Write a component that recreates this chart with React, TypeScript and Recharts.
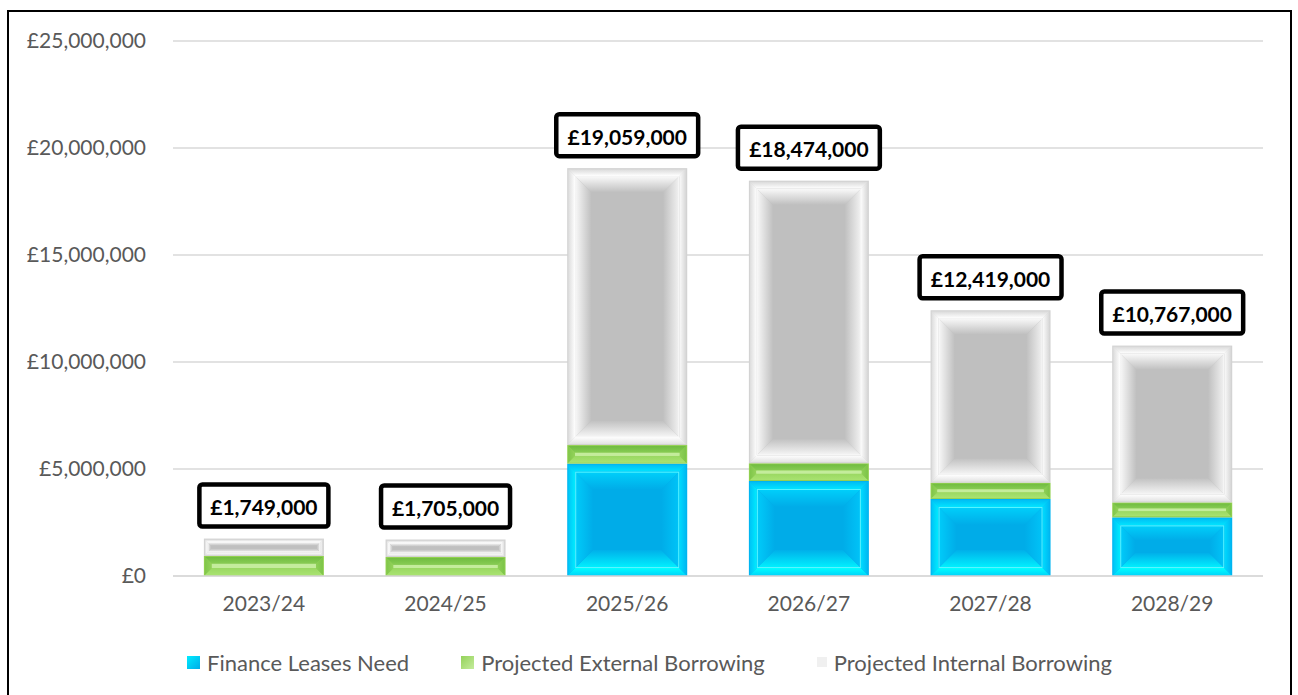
import React from "react";
import {
  Bar,
  BarChart,
  CartesianGrid,
  LabelList,
  XAxis,
  YAxis,
} from "recharts";

const categories = ["2023/24", "2024/25", "2025/26", "2026/27", "2027/28", "2028/29"];
const financeLeases = [0, 0, 5250000, 4440000, 3600000, 2740000];
const externalBorrowing = [940000, 890000, 870000, 830000, 760000, 700000];
const internalBorrowing = [809000, 815000, 12939000, 13204000, 8059000, 7327000];
const totals = [1749000, 1705000, 19059000, 18474000, 12419000, 10767000];
const yTicks = [0, 5000000, 10000000, 15000000, 20000000, 25000000];

const seriesNames = {
  fin: "Finance Leases Need",
  ext: "Projected External Borrowing",
  int: "Projected Internal Borrowing",
};

const data = categories.map((c, i) => ({
  year: c,
  fin: financeLeases[i],
  ext: externalBorrowing[i],
  int: internalBorrowing[i],
  total: totals[i],
}));

const FONT = "Lato, 'Open Sans', sans-serif";
const GREY_TEXT = "#595959";

type Pair = [string, string];
type Sides = { top: Pair; bottom: Pair; left: Pair; right: Pair };
type Palette = {
  edge: string;
  b1: number;
  r1: number;
  b2: number;
  o: Sides;
  i: Sides;
  face: string;
  line: string;
};

// bevel colours: o = outer frame (edge -> inside), i = inner "pillow" around the face
const PAL: Record<string, Palette> = {
  fin: {
    edge: "#00B4F0",
    b1: 8,
    r1: 0.2,
    b2: 18,
    o: {
      top: ["#00BEF4", "#00E4FF"],
      bottom: ["#00D8FA", "#00FFFF"],
      left: ["#00C4F6", "#00ECFF"],
      right: ["#00B8F2", "#00DCFF"],
    },
    i: {
      top: ["#00D0FB", "#00ACE8"],
      bottom: ["#00F2FF", "#00B0EA"],
      left: ["#00CCFA", "#00ACE8"],
      right: ["#00C4F8", "#00ACE8"],
    },
    face: "#00ACE8",
    line: "#5AF4FF",
  },
  ext: {
    edge: "#92D050",
    b1: 8,
    r1: 0.42,
    b2: 0,
    o: {
      top: ["#70BC40", "#88CC54"],
      bottom: ["#A8E270", "#9AD862"],
      left: ["#80C64A", "#94D25A"],
      right: ["#7CC448", "#90D058"],
    },
    i: {
      top: ["#C8EFA0", "#C8EFA0"],
      bottom: ["#C8EFA0", "#C8EFA0"],
      left: ["#C8EFA0", "#C8EFA0"],
      right: ["#C8EFA0", "#C8EFA0"],
    },
    face: "#C4EC9C",
    line: "#C4EC9C",
  },
  int: {
    edge: "#D2D2D2",
    b1: 8,
    r1: 0.2,
    b2: 16,
    o: {
      top: ["#DADADA", "#FFFFFF"],
      bottom: ["#E2E2E2", "#FFFFFF"],
      left: ["#DCDCDC", "#FFFFFF"],
      right: ["#D6D6D6", "#FCFCFC"],
    },
    i: {
      top: ["#FAFAFA", "#C0C0C0"],
      bottom: ["#F6F6F6", "#C2C2C2"],
      left: ["#F8F8F8", "#C0C0C0"],
      right: ["#F2F2F2", "#C0C0C0"],
    },
    face: "#BFBFBF",
    line: "#F6F6F6",
  },
};

const DIRS: Record<string, [number, number, number, number]> = {
  top: [0, 0, 0, 1],
  bottom: [0, 1, 0, 0],
  left: [0, 0, 1, 0],
  right: [1, 0, 0, 0],
};

function Gradients() {
  const out: React.ReactNode[] = [];
  Object.entries(PAL).forEach(([key, p]) => {
    (["o", "i"] as const).forEach((lvl) => {
      Object.entries(DIRS).forEach(([side, d]) => {
        const [c1, c2] = p[lvl][side as keyof Sides];
        out.push(
          <linearGradient
            key={`${key}-${lvl}-${side}`}
            id={`g-${key}-${lvl}-${side}`}
            x1={d[0]}
            y1={d[1]}
            x2={d[2]}
            y2={d[3]}
          >
            <stop offset="0%" stopColor={c1} />
            <stop offset="100%" stopColor={c2} />
          </linearGradient>
        );
      });
    });
  });
  return <defs>{out}</defs>;
}

function frame(x: number, y: number, w: number, h: number, b: number, prefix: string) {
  if (b <= 0) return null;
  const x2 = x + w;
  const y2 = y + h;
  return (
    <g>
      <polygon points={`${x},${y} ${x2},${y} ${x2 - b},${y + b} ${x + b},${y + b}`} fill={`url(#${prefix}-top)`} />
      <polygon points={`${x},${y2} ${x2},${y2} ${x2 - b},${y2 - b} ${x + b},${y2 - b}`} fill={`url(#${prefix}-bottom)`} />
      <polygon points={`${x},${y} ${x + b},${y + b} ${x + b},${y2 - b} ${x},${y2}`} fill={`url(#${prefix}-left)`} />
      <polygon points={`${x2},${y} ${x2 - b},${y + b} ${x2 - b},${y2 - b} ${x2},${y2}`} fill={`url(#${prefix}-right)`} />
    </g>
  );
}

function BevelBar(props: any) {
  const { x, y, width, height, series } = props;
  const h = Math.abs(height);
  const w = width;
  if (!h || h < 0.5) return null;
  const top = height < 0 ? y + height : y;
  const p = PAL[series];
  const b1 = Math.max(0, Math.min(p.b1, h * p.r1, w / 2));
  const ix = x + b1;
  const iy = top + b1;
  const iw = w - 2 * b1;
  const ih = h - 2 * b1;
  const b2 = Math.max(0, Math.min(p.b2, ih * 0.35, iw * 0.35));
  return (
    <g>
      <rect x={x} y={top} width={w} height={h} fill={p.edge} />
      {frame(x + 1, top + 1, w - 2, h - 2, Math.max(0, b1 - 1), `g-${series}-o`)}
      <rect x={ix} y={iy} width={iw} height={Math.max(ih, 0)} fill={p.face} />
      {frame(ix, iy, iw, ih, b2, `g-${series}-i`)}
      {ih > 2 && (
        <rect x={ix + 0.5} y={iy + 0.5} width={iw - 1} height={ih - 1} fill="none" stroke={p.line} strokeWidth={1} />
      )}
    </g>
  );
}

function TotalLabel(props: any) {
  const { x, y, width, value } = props;
  const text = "£" + Number(value).toLocaleString("en-GB");
  const bw = text.length * 12.9;
  const bh = 42;
  const cx = x + width / 2;
  const bottom = y - 12;
  return (
    <g>
      <rect
        x={cx - bw / 2}
        y={bottom - bh}
        width={bw}
        height={bh}
        rx={3}
        fill="#FFFFFF"
        stroke="#000000"
        strokeWidth={4.5}
      />
      <text
        x={cx}
        y={bottom - bh / 2 + 1}
        textAnchor="middle"
        dominantBaseline="central"
        fontFamily={FONT}
        fontWeight={700}
        fontSize={21}
        fill="#000000"
      >
        {text}
      </text>
    </g>
  );
}

function LegendMarker({ series }: { series: string }) {
  const p = PAL[series];
  const s = series === "int" ? 10 : 13;
  return (
    <svg width={s} height={s} style={{ marginRight: 7, display: "block" }}>
      <defs>
        <linearGradient id={`lg-${series}`} x1="0" y1="0" x2="1" y2="1">
          <stop offset="0%" stopColor={p.o.left[1]} />
          <stop offset="100%" stopColor={series === "int" ? "#E4E4E4" : p.face} />
        </linearGradient>
      </defs>
      <rect x={0} y={0} width={s} height={s} fill={series === "int" ? "#F0F0F0" : `url(#lg-${series})`} />
    </svg>
  );
}

const yFmt = (v: number) => "£" + v.toLocaleString("en-GB");

export default function App() {
  return (
    <div
      style={{
        position: "absolute",
        left: 7,
        top: 10,
        width: 1281,
        height: 700,
        border: "2px solid #000",
        background: "#fff",
        fontFamily: FONT,
      }}
    >
      <BarChart
        width={1281}
        height={640}
        data={data}
        margin={{ top: 29, right: 27, left: 0, bottom: 40 }}
        barCategoryGap="17%"
      >
        <Gradients />
        <CartesianGrid stroke="#D9D9D9" strokeWidth={1.3} vertical={false} />
        <XAxis
          dataKey="year"
          height={36}
          axisLine={{ stroke: "#D9D9D9", strokeWidth: 1.3 }}
          tickLine={false}
          tickSize={0}
          tickMargin={20}
          tick={{ fontSize: 21, fill: GREY_TEXT, fontFamily: FONT }}
        />
        <YAxis
          width={164}
          domain={[0, 25000000]}
          ticks={yTicks}
          tickFormatter={yFmt}
          axisLine={false}
          tickLine={false}
          tickSize={0}
          tickMargin={27}
          tick={{ fontSize: 21, fill: GREY_TEXT, fontFamily: FONT }}
        />
        <Bar
          dataKey="fin"
          name={seriesNames.fin}
          stackId="a"
          isAnimationActive={false}
          shape={(p: any) => <BevelBar {...p} series="fin" />}
        />
        <Bar
          dataKey="ext"
          name={seriesNames.ext}
          stackId="a"
          isAnimationActive={false}
          shape={(p: any) => <BevelBar {...p} series="ext" />}
        />
        <Bar
          dataKey="int"
          name={seriesNames.int}
          stackId="a"
          isAnimationActive={false}
          shape={(p: any) => <BevelBar {...p} series="int" />}
        >
          <LabelList dataKey="total" content={(p: any) => <TotalLabel {...p} />} />
        </Bar>
      </BarChart>
      <div
        style={{
          position: "absolute",
          left: 0,
          width: 1281,
          top: 636,
          height: 28,
          display: "flex",
          justifyContent: "center",
          alignItems: "center",
          gap: 52,
          fontSize: 22,
          color: GREY_TEXT,
        }}
      >
        {(["fin", "ext", "int"] as const).map((k) => (
          <div key={k} style={{ display: "flex", alignItems: "center" }}>
            <LegendMarker series={k} />
            <span>{seriesNames[k]}</span>
          </div>
        ))}
      </div>
    </div>
  );
}
